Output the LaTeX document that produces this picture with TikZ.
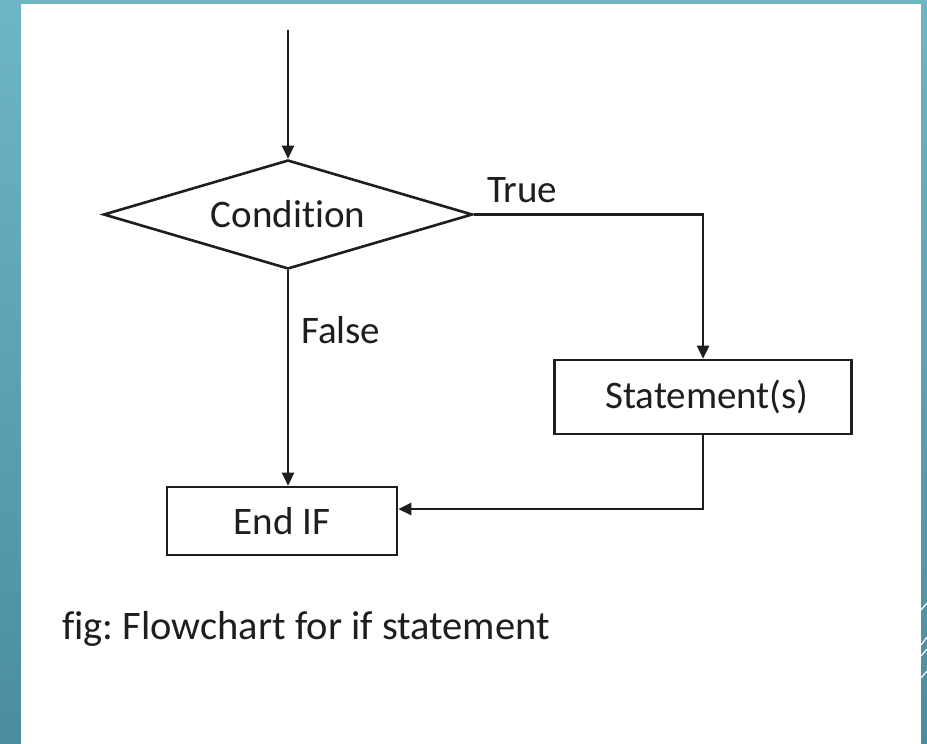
\documentclass[tikz,border=0pt]{standalone}
\usepackage{fontspec}
\setmainfont[Ligatures={NoCommon,NoDiscretionary}]{Carlito}
\usetikzlibrary{shapes.geometric,arrows.meta}
\definecolor{tealtop}{HTML}{6DB6C5}
\definecolor{tealbot}{HTML}{4B8D9F}
\definecolor{ink}{HTML}{1E1E1E}
\tikzset{
  flowline/.style={draw=ink, line width=2.6pt},
  arr/.style={flowline, -{Triangle[length=13pt,width=12pt]}},
  boxnode/.style={draw=ink, line width=2.6pt, rectangle, inner sep=0pt, font=\fontsize{39}{44}\selectfont, text=ink},
  lbl/.style={font=\fontsize{39}{44}\selectfont, text=ink, inner sep=0pt},
}
\frenchspacing
\begin{document}
\begin{tikzpicture}[x=1pt,y=-1pt]
\useasboundingbox (0,0) rectangle (927,744);
\shade[top color=tealtop, bottom color=tealbot] (0,0) rectangle (927,744);
\fill[white] (21,4) rectangle (921,744);
\draw[white, line width=1.2pt] (921,610) -- (927,603);
\draw[white, line width=1.2pt] (921,645) -- (927,637);
\draw[white, line width=1.2pt] (921,656) -- (927,649);
\draw[white, line width=1.2pt] (921,678) -- (927,671);
% nodes
\node[boxnode, diamond, aspect=3.385, minimum width=369pt, minimum height=109pt] (cond) at (288,214.5) {Condition};
\node[boxnode, minimum width=297pt, minimum height=74pt] (stmt) at (703,397) {\hspace*{8pt}Statement(s)};
\node[boxnode, minimum width=230pt, minimum height=68pt] (endif) at (282,521) {End IF};
\coordinate (start) at (288,30);
% connectors
\draw[arr] (start) -- (cond.north);
\draw[arr] (cond.east) -| (stmt.north);
\draw[arr] (cond.south) -- (cond.south |- endif.north);
\draw[arr] (stmt.south) |- ([yshift=12pt]endif.east);
% labels
\node[lbl, anchor=base west] (truelbl) at (487,202) {True};
\node[lbl, anchor=base west] (falselbl) at (301,343) {False};
\node[lbl, anchor=base west, font=\fontsize{40.5}{46}\selectfont] (caption) at (62,639) {fig: Flowchart for if statement};
\end{tikzpicture}
\end{document}
